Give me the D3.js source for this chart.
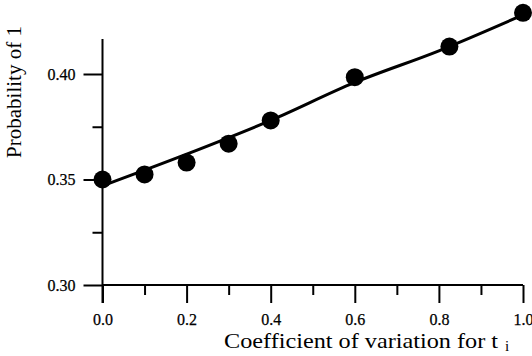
<!DOCTYPE html>
<html>
<head>
<meta charset="utf-8">
<script src="https://cdn.jsdelivr.net/npm/d3@7.9.0/dist/d3.min.js"></script>
<style>
  body { margin: 0; background: #fff; }
  text { font-family: "Liberation Serif", "DejaVu Serif", serif; fill: #000; }
</style>
</head>
<body>
<svg id="chart" width="532" height="356"></svg>
<script>
// points
const cv = [0, 0.1, 0.2, 0.3, 0.4, 0.6, 0.825, 1.0];
const prob = [0.350, 0.3524, 0.358, 0.367, 0.378, 0.3985, 0.413, 0.429];

// fitted curve
const fitX = [0, 0.2, 0.4, 0.6, 0.8, 1.0];
const fitY = [0.347, 0.362, 0.378, 0.396, 0.411, 0.428];

const xTicks = [0, 0.2, 0.4, 0.6, 0.8, 1.0];
const xMinor = [0.1, 0.3, 0.5, 0.7, 0.9];
const yTicks = [0.30, 0.35, 0.40];
const yMinor = [0.325, 0.375];

const svg = d3.select('#chart');

const x = d3.scaleLinear().domain([0, 1]).range([102.5, 523]);
const y = d3.scaleLinear().domain([0.30, 0.40]).range([285, 74]);

// axes
const xAxis = svg.append('g').attr('transform', `translate(0,${y(0.30)})`);
xAxis.call(d3.axisBottom(x).tickValues(xTicks).tickSize(18).tickFormat(d3.format('.1f')));
xAxis.append('g').call(d3.axisBottom(x).tickValues(xMinor).tickSize(10).tickFormat(''));

const yAxis = svg.append('g').attr('transform', `translate(${x(0)},0)`);
yAxis.call(d3.axisLeft(y).tickValues(yTicks).tickSize(19).tickFormat(d3.format('.2f')));
yAxis.append('g').call(d3.axisLeft(y).tickValues(yMinor).tickSize(10).tickFormat(''));

svg.selectAll('.domain').remove();
svg.selectAll('.tick line').attr('stroke', '#000').attr('stroke-width', 2);
svg.selectAll('.tick text')
  .attr('font-size', 16)
  .attr('stroke', '#000').attr('stroke-width', 0.25);
xAxis.selectAll('.tick text').attr('dy', null).attr('y', 40);
yAxis.selectAll('.tick text').attr('x', -27).attr('dy', '0.34em');

// axis lines
svg.append('line')
  .attr('x1', x(0)).attr('x2', x(1))
  .attr('y1', y(0.30)).attr('y2', y(0.30))
  .attr('stroke', '#000').attr('stroke-width', 2);
svg.append('line')
  .attr('x1', x(0)).attr('x2', x(0))
  .attr('y1', 39).attr('y2', 303)
  .attr('stroke', '#000').attr('stroke-width', 2);

// fitted line
const line = d3.line()
  .x((d, i) => x(fitX[i]))
  .y(d => y(d))
  .curve(d3.curveMonotoneX);
svg.append('path')
  .attr('d', line(fitY))
  .attr('fill', 'none')
  .attr('stroke', '#000')
  .attr('stroke-width', 3);

// data points
svg.selectAll('circle')
  .data(cv)
  .join('circle')
  .attr('cx', d => x(d))
  .attr('cy', (d, i) => y(prob[i]))
  .attr('r', 9)
  .attr('fill', '#000');

// titles
svg.append('text')
  .attr('x', 224).attr('y', 348)
  .attr('font-size', 21)
  .attr('textLength', 274)
  .attr('lengthAdjust', 'spacingAndGlyphs')
  .text('Coefficient of variation for t');
svg.append('text')
  .attr('x', 505).attr('y', 351)
  .attr('font-size', 15)
  .text('i');

svg.append('text')
  .attr('transform', 'translate(21,92) rotate(-90)')
  .attr('text-anchor', 'middle')
  .attr('font-size', 21)
  .text('Probability of 1');
</script>
</body>
</html>
